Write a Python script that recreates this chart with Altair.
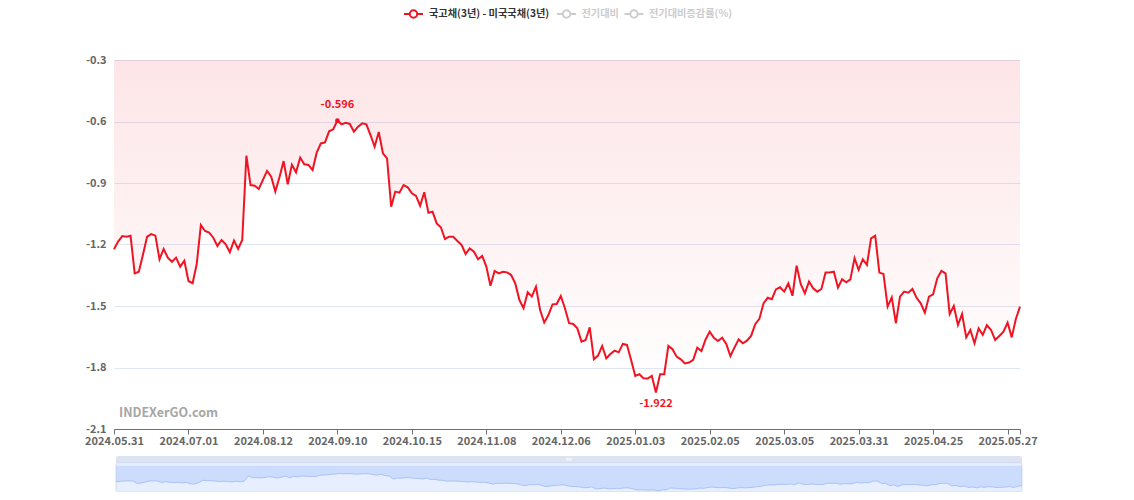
import altair as alt
import pandas as pd

# ---- data -------------------------------------------------------------
series_name = "국고채(3년) - 미국국채(3년)"
legend_off = ["전기대비", "전기대비증감률(%)"]

tick_labels = ["2024.05.31", "2024.07.01", "2024.08.12", "2024.09.10", "2024.10.15",
               "2024.11.08", "2024.12.06", "2025.01.03", "2025.02.05", "2025.03.05",
               "2025.03.31", "2025.04.25", "2025.05.27"]
label_every = 18

values = [
    -1.223, -1.186, -1.159, -1.162, -1.157, -1.341, -1.333, -1.250, -1.162, -1.149,
    -1.157, -1.272, -1.222, -1.264, -1.284, -1.264, -1.308, -1.279, -1.378, -1.389,
    -1.295, -1.105, -1.134, -1.142, -1.167, -1.207, -1.178, -1.199, -1.238, -1.181,
    -1.222, -1.178, -0.767, -0.910, -0.913, -0.929, -0.885, -0.841, -0.869, -0.942,
    -0.872, -0.793, -0.906, -0.811, -0.848, -0.777, -0.809, -0.812, -0.837, -0.752,
    -0.707, -0.702, -0.648, -0.638, -0.596, -0.614, -0.606, -0.612, -0.650, -0.625,
    -0.609, -0.614, -0.666, -0.723, -0.651,
    -0.755, -0.780, -1.016, -0.942, -0.947, -0.910, -0.921, -0.950, -0.963, -1.011,
    -0.945, -1.045, -1.040, -1.097, -1.116, -1.173, -1.162, -1.162, -1.183, -1.202,
    -1.246, -1.219, -1.235, -1.272, -1.256, -1.308, -1.401, -1.329, -1.341, -1.333,
    -1.336, -1.349, -1.390, -1.471, -1.511, -1.433, -1.454, -1.406, -1.520, -1.581,
    -1.544, -1.492, -1.490, -1.451, -1.511, -1.584, -1.588, -1.609, -1.674, -1.666,
    -1.604, -1.760, -1.742, -1.695, -1.755, -1.734, -1.718, -1.726, -1.685, -1.690,
    -1.763, -1.841, -1.833, -1.853, -1.854, -1.841, -1.922, -1.833, -1.833, -1.695,
    -1.711, -1.747, -1.760,
    -1.780, -1.776, -1.763, -1.703, -1.720, -1.663, -1.625, -1.655, -1.671, -1.655,
    -1.685, -1.744, -1.702, -1.663, -1.682, -1.669, -1.646, -1.589, -1.563, -1.487,
    -1.460, -1.467, -1.419, -1.409, -1.430, -1.390, -1.450, -1.303, -1.394, -1.438,
    -1.381, -1.414, -1.430, -1.417, -1.337, -1.337, -1.333, -1.411, -1.370, -1.384,
    -1.370, -1.267, -1.324, -1.272, -1.300, -1.170, -1.157, -1.337, -1.344, -1.503,
    -1.458, -1.584, -1.454, -1.430, -1.435, -1.417, -1.460, -1.487, -1.533, -1.454,
    -1.443, -1.365, -1.329, -1.341, -1.539, -1.500, -1.593, -1.539, -1.653, -1.617,
    -1.682, -1.609, -1.641, -1.593, -1.617, -1.666, -1.646, -1.625, -1.581, -1.653,
    -1.563, -1.503,
]
y_ticks = [-2.1, -1.8, -1.5, -1.2, -0.9, -0.6, -0.3]

# ---- build ------------------------------------------------------------
df = pd.DataFrame({"i": list(range(len(values))), "v": values})
n_last = len(values) - 1
tick_idx = [k * label_every for k in range(len(tick_labels))] + [n_last]

FONT = "Noto Sans CJK KR"
RED = "#f01423"
W, H = 906, 369

lab_arr = "[" + ",".join("'%s'" % t for t in tick_labels) + "]"
lab_expr = "datum.value %% %d == 0 ? %s[round(datum.value/%d)] : ''" % (
    label_every, lab_arr, label_every)

xs = alt.Scale(domain=[0, n_last], nice=False, zero=False)
ys = alt.Scale(domain=[y_ticks[0], y_ticks[-1]], nice=False, zero=False)

base = alt.Chart(df)

x_axis = alt.Axis(values=tick_idx, labelExpr=lab_expr,
                  grid=False, domainColor="#6E7079", tickColor="#6E7079", tickSize=5,
                  labelColor="#666666", labelFontWeight="bold", labelFontSize=11, labelFont=FONT,
                  labelPadding=1, labelFlush=False, labelOverlap=False, title=None)
y_axis = alt.Axis(values=y_ticks, labelExpr="'' + datum.value", grid=True, gridColor="#E0E6F1",
                  domain=False, ticks=False, labelColor="#666666", labelFontWeight="bold",
                  labelFontSize=11, labelFont=FONT, labelPadding=8, title=None)

grad = alt.Gradient(gradient="linear",
                    stops=[alt.GradientStop(color="rgba(240,20,35,0.11)", offset=0),
                           alt.GradientStop(color="rgba(240,20,35,0.0)", offset=1)],
                    x1=1, x2=1, y1=0, y2=1)

area = base.mark_area(fill=grad, interpolate="linear").encode(
    x=alt.X("i:Q", scale=xs, axis=x_axis),
    y=alt.Y("v:Q", scale=ys, axis=y_axis),
    y2=alt.datum(y_ticks[-1]),
)
line = base.mark_line(color=RED, strokeWidth=2).encode(
    x=alt.X("i:Q", scale=xs), y=alt.Y("v:Q", scale=ys))

ext = base.transform_joinaggregate(vmax="max(v)", vmin="min(v)").transform_calculate(
    lab="'' + datum.v")
max_dot = ext.transform_filter("datum.v == datum.vmax").mark_circle(
    color=RED, size=22, opacity=1).encode(x=alt.X("i:Q", scale=xs), y=alt.Y("v:Q", scale=ys))
max_lab = ext.transform_filter("datum.v == datum.vmax").mark_text(
    color=RED, font=FONT, fontSize=11, fontWeight="bold", dy=-16).encode(
    x=alt.X("i:Q", scale=xs), y=alt.Y("v:Q", scale=ys), text="lab:N")
min_lab = ext.transform_filter("datum.v == datum.vmin").mark_text(
    color=RED, font=FONT, fontSize=11, fontWeight="bold", dy=11).encode(
    x=alt.X("i:Q", scale=xs), y=alt.Y("v:Q", scale=ys), text="lab:N")

main = alt.layer(area, line, max_dot, max_lab, min_lab)

# ---- data-zoom slider ----------------------------------------------------
SX0, SX1 = 2, 908
SY0, SYB, SY1 = 396, 402.7, 432
slider_body = alt.Chart().mark_rect(fill="rgba(135,175,255,0.2)", stroke="#d2dbee",
                                    strokeWidth=1, cornerRadius=2).encode(
    x=alt.value(SX0), x2=alt.value(SX1), y=alt.value(SYB), y2=alt.value(SY1))
slider_top = alt.Chart().mark_rect(fill="#dde3f1", cornerRadiusTopLeft=2,
                                   cornerRadiusTopRight=2).encode(
    x=alt.value(SX0), x2=alt.value(SX1), y=alt.value(SY0), y2=alt.value(SYB))
handle = alt.layer(*[
    alt.Chart().mark_rule(color="#ffffff", strokeWidth=1).encode(
        x=alt.value(453 + 2 * k), y=alt.value(397.8), y2=alt.value(400.8))
    for k in range(3)])

mxs = alt.Scale(domain=[0, n_last], range=[SX0, SX1], nice=False, zero=False)
mys = alt.Scale(range=[SY1 - 1, SYB + 3], nice=False, zero=False)
mini_area = base.mark_area(color="#8fb0f7", opacity=0.3, line=False).encode(
    x=alt.X("i:Q", scale=mxs, axis=None), y=alt.Y("v:Q", scale=mys, axis=None),
    y2=alt.value(SY1 - 0.5))
mini_line = base.mark_line(color="#9db9f5", strokeWidth=0.8).encode(
    x=alt.X("i:Q", scale=mxs, axis=None), y=alt.Y("v:Q", scale=mys, axis=None))
mini = alt.layer(mini_area, mini_line)

# ---- legend & watermark ---------------------------------------------------
LY = -46
def legend_icon(x0, color):
    r = alt.Chart().mark_rule(color=color, strokeWidth=2).encode(
        x=alt.value(x0), x2=alt.value(x0 + 19), y=alt.value(LY))
    c = alt.Chart().mark_point(shape="circle", size=55, filled=True, fill="#ffffff",
                               stroke=color, strokeWidth=2, opacity=1).encode(
        x=alt.value(x0 + 9.5), y=alt.value(LY))
    return r + c

def legend_text(x0, txt, color):
    return alt.Chart().mark_text(text=txt, align="left", baseline="middle", font=FONT,
                                 fontSize=10.2, fontWeight="bold", color=color).encode(
        x=alt.value(x0), y=alt.value(LY))

legend = alt.layer(
    legend_icon(290, RED), legend_text(315, series_name, "#333333"),
    legend_icon(443, "#cccccc"), legend_text(467.5, legend_off[0], "#cccccc"),
    legend_icon(510.5, "#cccccc"), legend_text(535, legend_off[1], "#cccccc"),
)
watermark = alt.Chart().mark_text(text="INDEXerGO.com", align="left", baseline="middle",
                                  font=FONT, fontSize=12.5, fontWeight="bold",
                                  color="#a6a6a6").encode(x=alt.value(5), y=alt.value(353))

chart = alt.layer(
    main, slider_top, slider_body, mini, handle, legend, watermark
).resolve_scale(x="independent", y="independent").properties(
    width=W, height=H,
    background="#ffffff",
    autosize=alt.AutoSizeParams(type="none"),
    padding={"left": 106, "top": 52, "right": 20, "bottom": 63},
).configure_view(strokeWidth=0, stroke=None)

chart.save("out.html", embed_options={"renderer": "svg", "actions": False})
